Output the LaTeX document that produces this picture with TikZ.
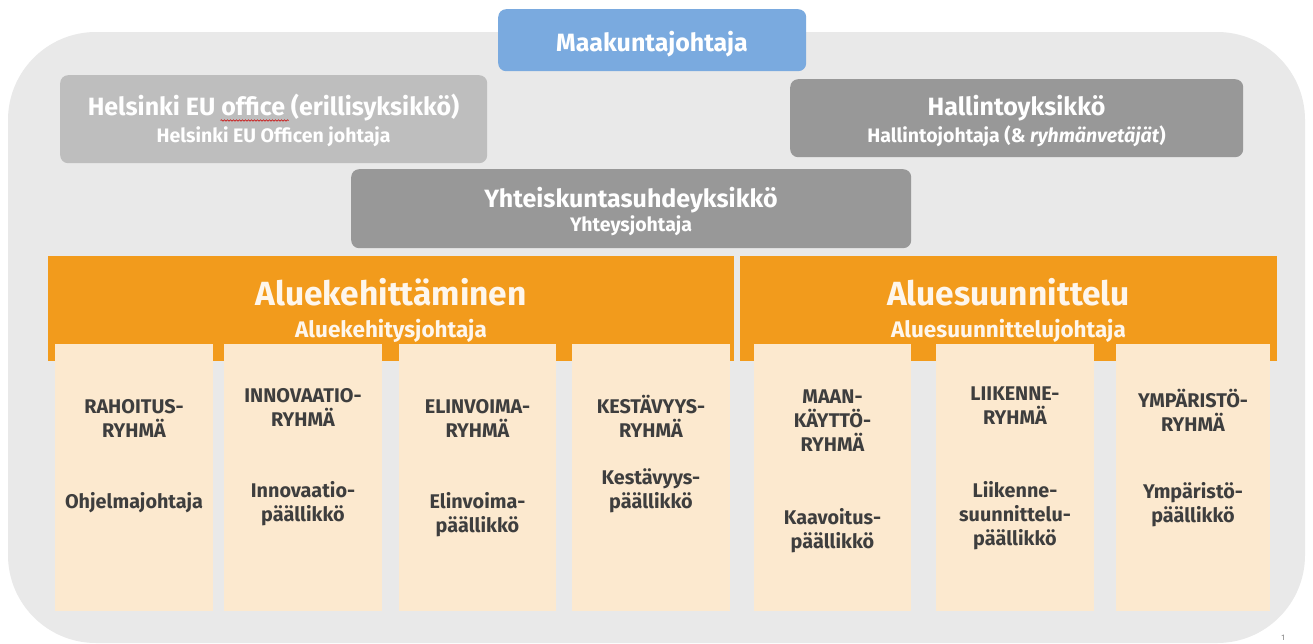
\documentclass[tikz,border=0pt]{standalone}
\usepackage{fontspec}
\setmainfont{Fira Sans}
\usetikzlibrary{decorations.pathmorphing}
\definecolor{bgg}{RGB}{233,233,233}
\definecolor{blu}{RGB}{122,170,223}
\definecolor{lgr}{RGB}{190,190,190}
\definecolor{dgr}{RGB}{152,152,152}
\definecolor{org}{RGB}{242,155,28}
\definecolor{crm}{RGB}{252,233,207}
\definecolor{txc}{RGB}{62,62,62}
\definecolor{wtx}{RGB}{254,246,236}
\tikzset{
  ubox/.style={rounded corners=8pt, inner sep=0pt, anchor=north west, draw=none},
  sqbox/.style={inner sep=0pt, anchor=north west, draw=none},
  ttl/.style={text=white, font=\bfseries\fontsize{25}{29}\selectfont, anchor=base, inner sep=0pt},
  sub/.style={text=white, font=\bfseries\fontsize{19.5}{23}\selectfont, anchor=base, inner sep=0pt},
  bigttl/.style={text=wtx, font=\bfseries\fontsize{33.5}{38}\selectfont, anchor=base, inner sep=0pt},
  bigsub/.style={text=wtx, font=\bfseries\fontsize{22.5}{26}\selectfont, anchor=base, inner sep=0pt},
  ct/.style={text=txc, font=\bfseries\fontsize{19.8}{24}\selectfont, anchor=base, inner sep=0pt},
}
\begin{document}
\begin{tikzpicture}[x=1pt,y=-1pt]
\useasboundingbox (0,0) rectangle (1313,643);
\fill[white] (0,0) rectangle (1313,643);
\fill[bgg, rounded corners=88pt] (8,32) rectangle (1305,643);

% top boxes
\node[ubox, fill=blu, minimum width=308pt, minimum height=62pt] (mj) at (498,9) {};
\node[ubox, fill=lgr, minimum width=427pt, minimum height=88pt] (eu) at (60,75) {};
\node[ubox, fill=dgr, minimum width=453pt, minimum height=78pt] (hy) at (790,79) {};
\node[ubox, fill=dgr, minimum width=560pt, minimum height=79pt] (ys) at (351,169) {};

\node[ttl] (mjt) at (652,51) {Maakuntajohtaja};
\node[ttl] (eut) at (273.5,115.5) {Helsinki EU office (erillisyksikkö)};
\node[sub] (eus) at (273.5,142) {Helsinki EU Officen johtaja};
\node[ttl] (hyt) at (1016.5,115.5) {Hallintoyksikkö};
\node[sub] (hys) at (1016.5,142) {Hallintojohtaja (\& \textit{ryhmänvetäjät})};
\node[ttl] (yst) at (631,207) {Yhteiskuntasuhdeyksikkö};
\node[sub] (yss) at (631,231) {Yhteysjohtaja};

% spellcheck underline under "office"
\draw[red!80!black, line width=0.6pt, decorate, decoration={snake, amplitude=0.8pt, segment length=3pt}]
  ([xshift=133pt,yshift=-5pt]eut.base west) -- ([xshift=201pt,yshift=-5pt]eut.base west);

% orange bars
\node[sqbox, fill=org, minimum width=686pt, minimum height=105pt] (ak) at (48,256) {};
\node[sqbox, fill=org, minimum width=537pt, minimum height=105pt] (as) at (740,256) {};
\node[bigttl] (akt) at (391,305) {Aluekehittäminen};
\node[bigsub] (aks) at (391,337) {Aluekehitysjohtaja};
\node[bigttl] (ast) at (1008.5,305) {Aluesuunnittelu};
\node[bigsub] (ass) at (1008.5,337) {Aluesuunnittelujohtaja};

% cream boxes
\foreach \xa/\xb [count=\i] in {55/213,224/382,399/556,572/730,754/911,936/1094,1116/1270}
  \node[sqbox, fill=crm, minimum width={(\xb-\xa)*1pt}, minimum height=267pt] (cb\i) at (\xa,344) {};

\foreach \x/\y/\t [count=\i] in {
  134/413/RAHOITUS-, 134/437/RYHMÄ, 134/508/Ohjelmajohtaja,
  303/402/INNOVAATIO-, 303/426/RYHMÄ, 303/497/Innovaatio-, 303/521/päällikkö,
  477.5/413/ELINVOIMA-, 477.5/437/RYHMÄ, 477.5/508/Elinvoima-, 477.5/532/päällikkö,
  651/413/KESTÄVYYS-, 651/437/RYHMÄ, 651/484/Kestävyys-, 651/508/päällikkö,
  832.5/403/MAAN-, 832.5/427/KÄYTTÖ-, 832.5/451/RYHMÄ, 832.5/524/Kaavoitus-, 832.5/548/päällikkö,
  1015/400/LIIKENNE-, 1015/424/RYHMÄ, 1015/497/Liikenne-, 1015/521/suunnittelu-, 1015/545/päällikkö,
  1193/407/YMPÄRISTÖ-, 1193/431/RYHMÄ, 1193/498/Ympäristö-, 1193/522/päällikkö}
  \node[ct] (t\i) at (\x,\y) {\t};

\node[text=gray, font=\fontsize{8}{9}\selectfont, anchor=base, inner sep=0pt] (pg) at (1283,640) {1};
\end{tikzpicture}
\end{document}
